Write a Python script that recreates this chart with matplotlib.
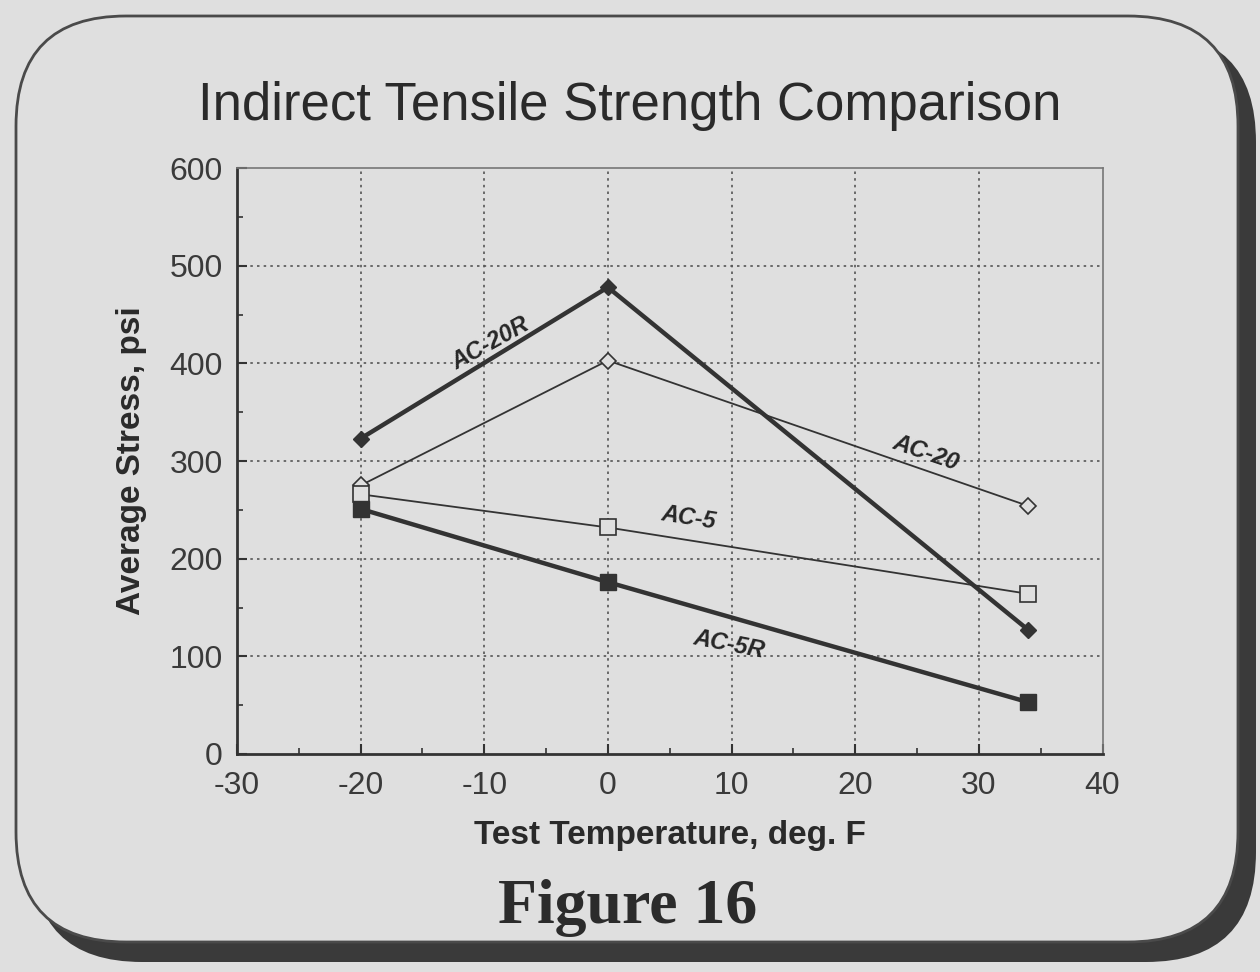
import matplotlib
matplotlib.use("Agg")
import matplotlib.pyplot as plt
from matplotlib.patches import FancyBboxPatch
from matplotlib.ticker import MultipleLocator

# Test temperatures (deg F)
temps = [-20, 0, 34]

# Average stress (psi) per mix
ac20r = [323, 478, 127]
ac20 = [275, 403, 254]
ac5 = [266, 232, 164]
ac5r = [251, 176, 53]

series_names = ["AC-20R", "AC-20", "AC-5", "AC-5R"]

x_ticks = [-30, -20, -10, 0, 10, 20, 30, 40]
y_ticks = [0, 100, 200, 300, 400, 500, 600]

BG = "#dfdfdf"
INK = "#333333"

plt.rcParams["font.family"] = ["Liberation Sans", "DejaVu Sans"]
plt.rcParams["axes.unicode_minus"] = False

fig = plt.figure(figsize=(12.6, 9.72), dpi=100)
fig.patch.set_facecolor(BG)

# background frame axes in pixel coordinates
bg = fig.add_axes([0, 0, 1, 1], zorder=0)
bg.set_xlim(0, 1260)
bg.set_ylim(0, 972)
bg.axis("off")

shadow = FancyBboxPatch((32, 972 - 962), 1224, 930,
                        boxstyle="round,pad=0,rounding_size=110",
                        facecolor="#3a3a3a", edgecolor="none")
bg.add_patch(shadow)
panel = FancyBboxPatch((16, 972 - 942), 1222, 926,
                       boxstyle="round,pad=0,rounding_size=110",
                       facecolor=BG, edgecolor="#4a4a4a", linewidth=2)
bg.add_patch(panel)

bg.text(630, 972 - 106, "Indirect Tensile Strength Comparison",
        ha="center", va="center", fontsize=38, color="#2a2a2a")
bg.text(628, 972 - 908, "Figure 16", ha="center", va="center",
        fontsize=46, fontweight="bold", color="#2b2b2b",
        family=["Liberation Serif", "DejaVu Serif"])

ax = fig.add_axes([0.188, 0.2243, 0.687, 0.6027], zorder=1)
ax.set_facecolor(BG)

ax.plot(temps, ac20r, color=INK, lw=3.2, marker="D", ms=8, mfc=INK, mec=INK, zorder=5)
ax.plot(temps, ac20, color=INK, lw=1.3, marker="D", ms=8, mfc=BG, mec=INK, mew=1.2, zorder=5)
ax.plot(temps, ac5, color=INK, lw=1.3, marker="s", ms=11, mfc=BG, mec=INK, mew=1.2, zorder=5)
ax.plot(temps, ac5r, color=INK, lw=3.2, marker="s", ms=11, mfc=INK, mec=INK, zorder=5)

# in-line series labels
label_pos = [(-9.5, 420, 29), (25.7, 308, -19), (6.5, 242, -9), (9.8, 112, -11)]
for name, (lx, ly, rot) in zip(series_names, label_pos):
    ax.text(lx, ly, name, rotation=rot, ha="center", va="center",
            fontsize=17, fontweight="bold", fontstyle="italic", color="#262626")

ax.set_xlim(-30, 40)
ax.set_ylim(0, 600)
ax.set_xticks(x_ticks)
ax.set_yticks(y_ticks)
ax.xaxis.set_minor_locator(MultipleLocator(5))
ax.yaxis.set_minor_locator(MultipleLocator(50))
ax.tick_params(which="both", direction="in", colors=INK, labelsize=23,
               labelcolor="#3a3a3a")
ax.tick_params(which="major", length=7, width=1.5)
ax.tick_params(which="minor", length=4, width=1.2)
ax.tick_params(axis="x", pad=12)
ax.tick_params(axis="y", pad=10)

for x in x_ticks[1:-1]:
    ax.axvline(x, color="#555555", lw=1.2, ls=(0, (1.5, 2.5)), zorder=1)
for y in y_ticks[1:-1]:
    ax.axhline(y, color="#555555", lw=1.2, ls=(0, (1.5, 2.5)), zorder=1)

for side in ["left", "bottom"]:
    ax.spines[side].set_color(INK)
    ax.spines[side].set_linewidth(2)
for side in ["top", "right"]:
    ax.spines[side].set_color("#777777")
    ax.spines[side].set_linewidth(1.2)

ax.set_xlabel("Test Temperature, deg. F", fontsize=24, fontweight="bold",
              color="#2a2a2a", labelpad=14)
ax.set_ylabel("Average Stress, psi", fontsize=24, fontweight="bold",
              color="#2a2a2a", labelpad=16)

fig.savefig("out.png", dpi=100, facecolor=BG)
